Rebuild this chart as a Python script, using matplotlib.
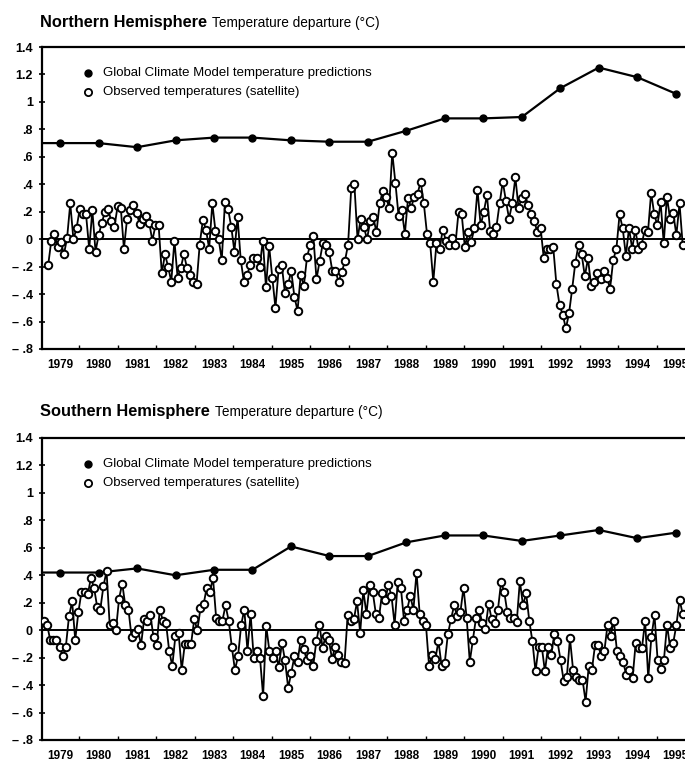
import numpy as np
import matplotlib
matplotlib.use("Agg")
import matplotlib.pyplot as plt

plt.rcParams['font.family'] = ['Liberation Sans', 'DejaVu Sans']

# ---------------- data ----------------
model_years = np.arange(1979, 1996)
nh_model = [0.70, 0.70, 0.67, 0.72, 0.74, 0.74, 0.72, 0.71, 0.71, 0.79,
            0.88, 0.88, 0.89, 1.10, 1.25, 1.18, 1.06]
sh_model = [0.42, 0.42, 0.45, 0.40, 0.44, 0.44, 0.61, 0.54, 0.54, 0.64,
            0.69, 0.69, 0.65, 0.69, 0.73, 0.67, 0.71]

nh_obs = [-0.19, -0.01, 0.04, -0.06, -0.02, -0.11, 0.01, 0.26, 0.00, 0.08,
          0.22, 0.18, 0.18, -0.07, 0.21, -0.09, 0.03, 0.12, 0.20, 0.22,
          0.13, 0.09, 0.24, 0.23, -0.07, 0.15, 0.21, 0.25, 0.19, 0.11,
          0.15, 0.17, 0.12, -0.01, 0.10, 0.10, -0.25, -0.11, -0.20, -0.31,
          -0.01, -0.28, -0.21, -0.11, -0.21, -0.26, -0.31, -0.33, -0.04, 0.14,
          0.07, -0.07, 0.26, 0.06, 0.00, -0.15, 0.27, 0.22, 0.09, -0.09,
          0.16, -0.15, -0.31, -0.26, -0.19, -0.14, -0.14, -0.20, -0.01, -0.35,
          -0.05, -0.28, -0.50, -0.22, -0.19, -0.39, -0.33, -0.23, -0.42, -0.52,
          -0.26, -0.34, -0.13, -0.04, 0.02, -0.29, -0.16, -0.03, -0.04, -0.09,
          -0.23, -0.23, -0.31, -0.24, -0.16, -0.04, 0.37, 0.40, 0.00, 0.15,
          0.09, 0.00, 0.13, 0.16, 0.05, 0.26, 0.35, 0.31, 0.23, 0.63,
          0.41, 0.17, 0.21, 0.04, 0.30, 0.23, 0.31, 0.33, 0.42, 0.26,
          0.04, -0.03, -0.31, -0.03, -0.07, 0.07, -0.01, -0.04, 0.01, -0.04,
          0.20, 0.18, -0.06, 0.05, -0.02, 0.08, 0.36, 0.10, 0.20, 0.32,
          0.06, 0.04, 0.09, 0.26, 0.42, 0.28, 0.15, 0.26, 0.45, 0.23,
          0.30, 0.33, 0.25, 0.18, 0.13, 0.05, 0.08, -0.14, -0.07, -0.07,
          -0.06, -0.33, -0.48, -0.55, -0.65, -0.54, -0.36, -0.17, -0.04, -0.11,
          -0.27, -0.14, -0.34, -0.31, -0.25, -0.29, -0.23, -0.28, -0.36, -0.15,
          -0.07, 0.18, 0.08, -0.12, 0.08, -0.07, 0.07, -0.07, -0.04, 0.07,
          0.05, 0.34, 0.18, 0.10, 0.27, -0.03, 0.31, 0.15, 0.19, 0.03,
          0.26, -0.04]

sh_obs = [0.07, 0.04, -0.07, -0.07, -0.07, -0.12, -0.19, -0.12, 0.10, 0.21,
          -0.07, 0.13, 0.28, 0.28, 0.26, 0.38, 0.31, 0.17, 0.15, 0.32,
          0.43, 0.04, 0.05, 0.00, 0.23, 0.34, 0.18, 0.15, -0.05, -0.02,
          0.01, -0.11, 0.08, 0.07, 0.11, -0.05, -0.11, 0.15, 0.07, 0.05,
          -0.15, -0.26, -0.04, -0.02, -0.29, -0.10, -0.10, -0.10, 0.08, 0.00,
          0.16, 0.19, 0.31, 0.28, 0.38, 0.09, 0.07, 0.07, 0.18, 0.07,
          -0.12, -0.29, -0.19, 0.04, 0.15, -0.15, 0.12, -0.20, -0.15, -0.20,
          -0.48, 0.03, -0.15, -0.20, -0.15, -0.27, -0.09, -0.22, -0.42, -0.31,
          -0.19, -0.23, -0.07, -0.14, -0.22, -0.19, -0.26, -0.08, 0.04, -0.13,
          -0.04, -0.07, -0.21, -0.12, -0.18, -0.23, -0.24, 0.11, 0.07, 0.08,
          0.21, -0.02, 0.29, 0.12, 0.33, 0.28, 0.12, 0.09, 0.27, 0.22,
          0.33, 0.25, 0.04, 0.35, 0.31, 0.07, 0.15, 0.25, 0.15, 0.42,
          0.12, 0.07, 0.04, -0.26, -0.18, -0.21, -0.08, -0.26, -0.24, -0.03,
          0.08, 0.18, 0.10, 0.13, 0.31, 0.09, -0.23, -0.07, 0.09, 0.15,
          0.05, 0.01, 0.19, 0.08, 0.05, 0.15, 0.35, 0.28, 0.13, 0.09,
          0.09, 0.06, 0.36, 0.18, 0.27, 0.07, -0.08, -0.30, -0.12, -0.12,
          -0.30, -0.12, -0.18, -0.03, -0.08, -0.22, -0.37, -0.34, -0.06, -0.29,
          -0.34, -0.36, -0.36, -0.52, -0.26, -0.29, -0.11, -0.11, -0.19, -0.15,
          0.04, -0.04, 0.07, -0.15, -0.19, -0.23, -0.33, -0.29, -0.35, -0.09,
          -0.13, -0.13, 0.07, -0.35, -0.05, 0.11, -0.22, -0.28, -0.22, 0.04,
          -0.13, -0.09, 0.04, 0.22, 0.12]

nh_obs_span = (1979.19, 1995.68)
sh_obs_span = (1979.08, 1995.68)

year_labels = [str(y) for y in range(1979, 1996)]
ytick_vals = [1.4, 1.2, 1.0, 0.8, 0.6, 0.4, 0.2, 0.0, -0.2, -0.4, -0.6, -0.8]
ytick_labels = ['1.4', '1.2', '1', '.8', '.6', '.4', '.2', '0',
                '\u2013 .2', '\u2013 .4', '\u2013 .6', '\u2013 .8']

legend_labels = ['Global Climate Model temperature predictions',
                 'Observed temperatures (satellite)']
subtitle = 'Temperature departure (\u00b0C)'

# ---------------- figure ----------------
W, H = 685, 769
fig = plt.figure(figsize=(W / 100, H / 100), dpi=100)
fig.patch.set_facecolor('white')

XL = (1979.03, 1996.0)


def panel(rect, model_vals, obs_vals, obs_span, title_bold, title_y):
    ax = fig.add_axes(rect)
    ax.set_xlim(*XL)
    ax.set_ylim(-0.8, 1.4)
    ax.spines['right'].set_visible(False)
    for s in ['top', 'left', 'bottom']:
        ax.spines[s].set_linewidth(1.6)
    ax.axhline(0, color='black', lw=1.4, zorder=1)

    mx = model_years + 0.5
    ax.plot(np.r_[XL[0], mx], np.r_[model_vals[0], model_vals], color='black',
            lw=1.6, zorder=2)
    ax.plot(mx, model_vals, 'o', color='black', ms=5, zorder=3)

    ox = np.linspace(obs_span[0], obs_span[1], len(obs_vals))
    ax.plot(ox, obs_vals, '-o', color='black', lw=1.3, ms=5.4, mfc='white',
            mec='black', mew=1.4, zorder=4)

    ax.set_yticks(ytick_vals)
    ax.set_yticklabels(ytick_labels, fontsize=9, fontweight='bold')
    ax.tick_params(axis='y', direction='inout', length=5, width=1.2, pad=4)
    ax.set_xticks(model_years + 0.5)
    ax.set_xticklabels(year_labels, fontsize=8.5, fontweight='bold')
    ax.set_xticks(np.arange(1980, 1996), minor=True)
    ax.tick_params(axis='x', which='major', length=0, pad=7)
    ax.tick_params(axis='x', which='minor', direction='in', length=3, width=1)

    # legend
    ax.plot([0.070], [0.914], 'o', color='black', ms=5, transform=ax.transAxes)
    ax.plot([0.070], [0.851], 'o', color='black', ms=5.2, mfc='white', mew=1.3,
            transform=ax.transAxes)
    ax.text(0.094, 0.914, legend_labels[0], transform=ax.transAxes,
            va='center', ha='left', fontsize=9.5)
    ax.text(0.094, 0.851, legend_labels[1], transform=ax.transAxes,
            va='center', ha='left', fontsize=9.5)

    t = fig.text(40 / W, 1 - title_y / H, title_bold, fontsize=11.8,
                 fontweight='bold', va='baseline', ha='left')
    fig.canvas.draw()
    bb = t.get_window_extent()
    fig.text((bb.x1 + 5) / W, 1 - title_y / H, subtitle,
             fontsize=9.8, va='baseline', ha='left')
    return ax


left = 42 / W
width = (695 - 42) / W
panel([left, 1 - 349 / H, width, (349 - 47) / H], nh_model, nh_obs, nh_obs_span,
      'Northern Hemisphere', 27)
panel([left, 1 - 740 / H, width, (740 - 438) / H], sh_model, sh_obs, sh_obs_span,
      'Southern Hemisphere', 416)

fig.savefig('out.png', dpi=100)
